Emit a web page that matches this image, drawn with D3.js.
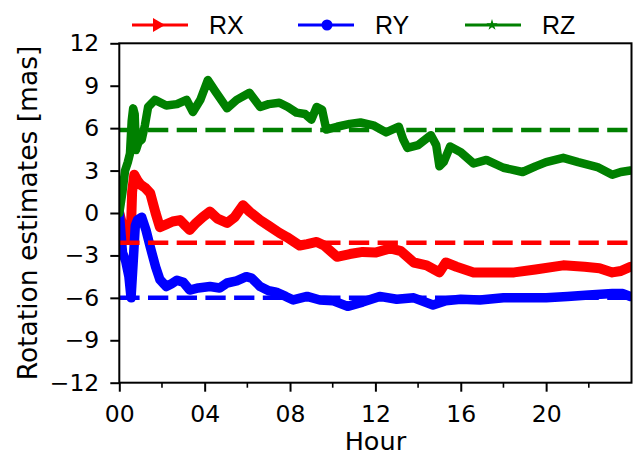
<!DOCTYPE html>
<html lang="en">
<head>
<meta charset="UTF-8">
<title>Rotation estimates</title>
<script src="https://d3js.org/d3.v7.min.js"></script>
<style>
    body { margin: 0; background: #fff; }
    .tick text { font-family: "DejaVu Sans", sans-serif; fill: #000; }
</style>
</head>
<body>
<div id="chart"></div>
<script>
// RX estimates (hours, mas)
const rxHours = [0, 0.2, 0.45, 0.55, 0.6, 0.7, 0.85, 1.0, 1.2, 1.45, 1.7, 1.9, 2.2, 2.5, 2.85, 3.1, 3.3, 3.6, 3.9, 4.25, 4.6, 5.05, 5.4, 5.8, 6.1, 6.6, 7.0, 7.5, 7.85, 8.45, 8.8, 9.25, 9.6, 10.2, 10.8, 11.4, 12.0, 12.7, 13.2, 13.8, 14.4, 15.0, 15.3, 15.8, 16.6, 17.5, 18.5, 19.5, 20.8, 21.8, 22.5, 23.1, 23.5, 23.95];
const rxValues = [0, -1.2, -1.9, -1.0, 1.5, 2.7, 2.3, 2.0, 1.8, 1.4, 0.0, -1.0, -0.8, -0.6, -0.5, -0.9, -1.2, -0.7, -0.3, 0.1, -0.4, -0.7, -0.3, 0.55, 0.1, -0.5, -0.9, -1.4, -1.7, -2.3, -2.2, -2.05, -2.3, -3.1, -2.9, -2.75, -2.8, -2.5, -2.7, -3.5, -3.7, -4.2, -3.5, -3.8, -4.2, -4.2, -4.2, -4.0, -3.7, -3.8, -3.9, -4.2, -4.1, -3.8];

// RY estimates
const ryHours = [0, 0.15, 0.3, 0.45, 0.55, 0.65, 0.75, 0.85, 1.05, 1.25, 1.45, 1.7, 1.9, 2.2, 2.45, 2.7, 3.0, 3.3, 3.7, 4.25, 4.7, 5.05, 5.5, 5.95, 6.2, 6.6, 7.0, 7.35, 7.8, 8.15, 8.8, 9.4, 10.0, 10.7, 11.4, 12.2, 13.0, 13.8, 14.7, 15.3, 16.0, 16.9, 18.0, 19.0, 20.0, 21.0, 22.0, 23.1, 23.6, 23.95];
const ryValues = [0, -2.8, -3.4, -4.5, -6.0, -3.5, -0.9, -0.5, -0.3, -1.2, -2.4, -3.8, -4.7, -5.2, -5.0, -4.75, -4.9, -5.45, -5.3, -5.2, -5.3, -4.95, -4.8, -4.5, -4.6, -5.2, -5.5, -5.6, -5.9, -6.15, -5.9, -6.15, -6.2, -6.6, -6.3, -5.9, -6.1, -6.0, -6.5, -6.2, -6.1, -6.15, -6.0, -6.0, -6.0, -5.9, -5.8, -5.7, -5.7, -5.9];

// RZ estimates
const rzHours = [0, 0.15, 0.27, 0.4, 0.5, 0.58, 0.65, 0.72, 0.78, 0.9, 1.05, 1.2, 1.35, 1.67, 2.2, 2.7, 3.15, 3.45, 3.8, 4.15, 4.5, 5.05, 5.5, 6.1, 6.6, 7.0, 7.5, 7.9, 8.3, 8.7, 9.0, 9.25, 9.5, 9.7, 10.2, 10.8, 11.3, 11.9, 12.5, 13.1, 13.3, 13.5, 14.0, 14.6, 14.85, 15.0, 15.2, 15.5, 16.0, 16.6, 17.2, 18.0, 18.9, 19.5, 20.0, 20.8, 21.5, 22.4, 23.1, 23.5, 23.95];
const rzValues = [0, 1.5, 3.0, 3.6, 4.2, 6.5, 7.4, 7.0, 4.45, 5.0, 5.2, 6.2, 7.5, 8.0, 7.6, 7.7, 8.0, 7.15, 8.0, 9.4, 8.6, 7.4, 8.0, 8.5, 7.5, 7.7, 7.8, 7.5, 7.1, 7.0, 6.6, 7.5, 7.3, 5.9, 6.1, 6.3, 6.4, 6.2, 5.7, 6.1, 5.2, 4.6, 4.8, 5.5, 4.8, 3.3, 3.6, 4.7, 4.3, 3.5, 3.75, 3.2, 2.9, 3.3, 3.6, 3.9, 3.6, 3.25, 2.7, 2.9, 3.0];

// reference (dashed) levels
const seriesNames = ["RX", "RY", "RZ"];
const seriesColors = ["#ff0000", "#0000ff", "#008000"];
const refValues = [-2.1, -6.0, 5.87];

const yTicks = [-12, -9, -6, -3, 0, 3, 6, 9, 12];
const xTicks = [0, 4, 8, 12, 16, 20];
const xMinorTicks = [2, 6, 10, 14, 18, 22];

const W = 635, H = 456;
const margin = {top: 43.3, right: 3.5, bottom: 73.3, left: 119.3};
const width = W - margin.left - margin.right;
const height = H - margin.top - margin.bottom;

const svg = d3.select("#chart").append("svg")
    .attr("width", W).attr("height", H);

const g = svg.append("g").attr("transform", `translate(${margin.left},${margin.top})`);

const x = d3.scaleLinear().domain([0, 24]).range([0, width]);
const y = d3.scaleLinear().domain([-12, 12]).range([height, 0]);

g.append("clipPath").attr("id", "clip")
    .append("rect").attr("width", width).attr("height", height);

const series = [
    {h: rxHours, v: rxValues, w: 10},
    {h: ryHours, v: ryValues, w: 9.5},
    {h: rzHours, v: rzValues, w: 8.5}
];

const line = d3.line().x(d => x(d[0])).y(d => y(d[1]));

const plot = g.append("g").attr("clip-path", "url(#clip)");

series.forEach((s, i) => {
    plot.append("path")
        .datum(s.h.map((h, k) => [h, s.v[k]]))
        .attr("d", line)
        .attr("fill", "none")
        .attr("stroke", seriesColors[i])
        .attr("stroke-width", s.w)
        .attr("stroke-linejoin", "round")
        .attr("stroke-linecap", "round");
});

refValues.forEach((r, i) => {
    plot.append("line")
        .attr("x1", x(0)).attr("x2", x(24))
        .attr("y1", y(r)).attr("y2", y(r))
        .attr("stroke", seriesColors[i])
        .attr("stroke-width", 4.5)
        .attr("stroke-dasharray", "20.3,8.4");
});

// axes
const yAxis = g.append("g")
    .call(d3.axisLeft(y).tickValues(yTicks).tickSize(9).tickSizeOuter(0).tickPadding(11)
        .tickFormat(d => d < 0 ? "\u2212" + Math.abs(d) : d));
yAxis.select(".domain").remove();
yAxis.selectAll(".tick line").attr("stroke-width", 2);
yAxis.selectAll(".tick text").attr("font-size", 23.5);

const xAxis = g.append("g").attr("transform", `translate(0,${height})`)
    .call(d3.axisBottom(x).tickValues(xTicks).tickSize(9).tickSizeOuter(0)
        .tickFormat(d3.format("02d")));
xAxis.select(".domain").remove();
xAxis.selectAll(".tick line").attr("stroke-width", 2);
xAxis.selectAll(".tick text").attr("font-size", 23.5).attr("dy", 0).attr("y", 39.5);

g.append("g").attr("transform", `translate(0,${height})`)
    .selectAll("line").data(xMinorTicks).join("line")
    .attr("x1", d => x(d)).attr("x2", d => x(d))
    .attr("y1", 0).attr("y2", 5)
    .attr("stroke", "#000").attr("stroke-width", 1.6);

g.append("rect")
    .attr("width", width).attr("height", height)
    .attr("fill", "none").attr("stroke", "#000").attr("stroke-width", 2);

// axis labels
svg.append("text")
    .attr("x", margin.left + width / 2).attr("y", 450)
    .attr("text-anchor", "middle")
    .attr("font-family", "DejaVu Sans, sans-serif").attr("font-size", 25.5)
    .text("Hour");

svg.append("text")
    .attr("transform", `translate(37,${margin.top + height / 2}) rotate(-90)`)
    .attr("text-anchor", "middle")
    .attr("font-family", "DejaVu Sans, sans-serif").attr("font-size", 26.5)
    .text("Rotation estimates [mas]");

// legend
const legendX = [132, 298, 465];
const legend = svg.append("g");
seriesNames.forEach((name, i) => {
    const lx = legendX[i];
    const lg = legend.append("g").attr("transform", `translate(${lx},25)`);
    lg.append("line").attr("x1", 0).attr("x2", 56).attr("y1", 0).attr("y2", 0)
        .attr("stroke", seriesColors[i]).attr("stroke-width", 3);
    if (i === 0) {
        lg.append("path").attr("d", "M21,-7 L33,0 L21,7 Z").attr("fill", seriesColors[i]);
    } else if (i === 1) {
        lg.append("circle").attr("cx", 29).attr("cy", 0).attr("r", 5.5).attr("fill", seriesColors[i]);
    } else {
        lg.append("path").attr("d", d3.symbol(d3.symbolStar, 40)())
            .attr("transform", "translate(27,0)").attr("fill", seriesColors[i]);
    }
    lg.append("text").attr("x", 77).attr("y", 9)
        .attr("font-family", "Liberation Sans, Arial, sans-serif").attr("font-size", 25)
        .text(name);
});
</script>
</body>
</html>
